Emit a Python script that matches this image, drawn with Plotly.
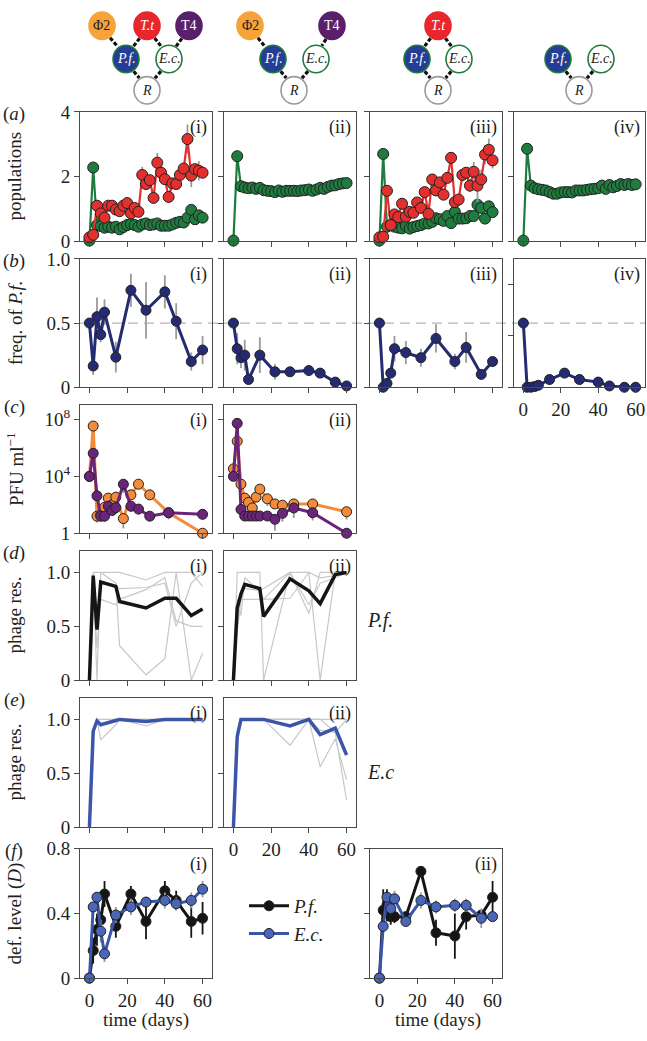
import plotly.graph_objects as go

W, H = 647, 1041
SERIF = 'Liberation Serif, Times New Roman, Times, serif'
TXT = '#231f20'
AX = '#4a4a4a'
GERR = '#9a9a9a'
GREP = '#c8c8c8'

# ---------------- data ----------------
days_a = list(range(0, 61, 2))
a1_tt = [0.12, 0.2, 1.1, 0.86, 0.73, 1.1, 1.1, 0.98, 0.93, 1.1, 1.18, 0.86, 1.03, 0.91, 2.05, 1.77,
         1.89, 1.34, 2.43, 2.12, 1.92, 1.37, 1.79, 1.77, 2.05, 2.25, 3.16, 2.03, 2.23, 2.18, 2.12]
a1_tt_err = [0.03, 0.05, 0.08, 0.1, 0.15, 0.08, 0.06, 0.08, 0.05, 0.1, 0.08, 0.1, 0.1, 0.1, 0.25, 0.15,
             0.15, 0.1, 0.3, 0.2, 0.15, 0.15, 0.1, 0.08, 0.1, 0.1, 0.45, 0.35, 0.1, 0.3, 0.1]
a1_ec = [0.02, 2.28, 0.5, 0.47, 0.42, 0.45, 0.42, 0.45, 0.37, 0.44, 0.5, 0.53, 0.5, 0.45, 0.52, 0.55,
         0.5, 0.52, 0.55, 0.48, 0.48, 0.48, 0.52, 0.57, 0.6, 0.58, 0.73, 0.97, 0.68, 0.8, 0.73]
a2_ec = [0.02, 2.63, 1.7, 1.66, 1.64, 1.66, 1.62, 1.65, 1.58, 1.56, 1.55, 1.52, 1.57, 1.53, 1.56, 1.56,
         1.56, 1.55, 1.57, 1.58, 1.6, 1.56, 1.6, 1.65, 1.62, 1.68, 1.72, 1.73, 1.77, 1.79, 1.8]
a3_tt = [0.12, 0.14, 1.56, 0.5, 0.83, 0.75, 1.16, 0.76, 0.91, 0.88, 1.2, 1.03, 1.52, 0.85, 1.91, 1.57,
         1.82, 1.44, 1.96, 2.58, 1.21, 1.29, 2.05, 2.12, 1.72, 2.15, 1.72, 1.91, 2.68, 2.83, 2.5]
a3_tt_err = [0.03, 0.03, 0.1, 0.08, 0.05, 0.05, 0.05, 0.05, 0.05, 0.05, 0.05, 0.06, 0.08, 0.06, 0.1, 0.1,
             0.1, 0.1, 0.1, 0.15, 0.1, 0.1, 0.2, 0.15, 0.2, 0.3, 0.5, 0.3, 0.3, 0.35, 0.25]
a3_ec = [0.02, 2.7, 0.45, 0.5, 0.45, 0.42, 0.4, 0.47, 0.39, 0.44, 0.47, 0.5, 0.55, 0.55, 0.6, 0.71,
         0.68, 0.63, 0.78, 0.56, 0.91, 0.7, 0.7, 0.71, 0.78, 0.78, 1.13, 1.03, 0.7, 1.08, 0.9]
a4_ec = [0.02, 2.86, 1.72, 1.64, 1.61, 1.59, 1.57, 1.52, 1.47, 1.47, 1.51, 1.52, 1.52, 1.51, 1.57, 1.57,
         1.57, 1.59, 1.61, 1.62, 1.64, 1.72, 1.62, 1.74, 1.67, 1.71, 1.77, 1.74, 1.77, 1.74, 1.76]

days_b = [0, 2, 4, 6, 8, 14, 22, 30, 40, 46, 54, 60]
b1 = [0.5, 0.165, 0.55, 0.41, 0.585, 0.234, 0.755, 0.6, 0.743, 0.514, 0.2, 0.29]
b1_err = [0, 0.07, 0.15, 0.06, 0.1, 0.12, 0.13, 0.22, 0.13, 0.14, 0.07, 0.11]
b2 = [0.5, 0.3, 0.23, 0.25, 0.06, 0.25, 0.12, 0.12, 0.13, 0.11, 0.04, 0.01]
b2_err = [0, 0.12, 0.08, 0.12, 0.02, 0.14, 0.06, 0.02, 0.02, 0.02, 0.02, 0.01]
b3 = [0.5, 0.0, 0.03, 0.11, 0.3, 0.27, 0.23, 0.38, 0.2, 0.31, 0.1, 0.2]
b3_err = [0, 0, 0.02, 0.03, 0.1, 0.09, 0.07, 0.11, 0.06, 0.12, 0.03, 0.03]
b4 = [0.5, 0.0, 0.0, 0.005, 0.015, 0.06, 0.11, 0.06, 0.04, 0.01, 0.0, 0.0]

days_c = [0, 2, 4, 6, 8, 10, 12, 14, 18, 22, 26, 32, 42, 60]
# log10(PFU/ml) and decades of the lower error bar
c1_phi2 = [4.0, 7.54, 1.2, 1.3, 1.83, 2.47, 2.0, 2.54, 1.03, 2.7, 3.45, 2.7, 1.44, 0.0]
c1_phi2_lo = [0, 0, 0.45, 0, 0, 0, 0, 0, 0.7, 0, 0, 0, 0.4, 0]
c1_t4 = [4.0, 5.62, 2.63, 1.2, 1.2, 1.9, 1.6, 1.8, 3.45, 1.9, 1.7, 1.2, 1.44, 1.33]
c1_t4_lo = [0, 0, 0, 0.4, 0.4, 0, 0, 0, 0.6, 0.4, 0.4, 0, 0.45, 0.35]
c2_phi2 = [4.53, 6.47, 3.45, 2.47, 2.17, 1.78, 2.54, 3.1, 2.42, 2.06, 1.97, 2.06, 2.06, 1.51]
c2_phi2_lo = [0, 0, 0, 0, 0, 0, 0, 0, 0.5, 0, 0, 0, 0, 0.55]
c2_t4 = [4.0, 7.73, 1.67, 1.21, 1.21, 1.21, 1.21, 1.21, 1.21, 0.98, 1.4, 1.78, 1.44, 0.0]
c2_t4_lo = [0, 0, 0, 0, 0, 0, 0, 0, 0, 0.8, 0.6, 0.7, 0.55, 0]

days_de = [0, 2, 4, 6, 14, 16, 30, 40, 46, 54, 60]
d1_mean = [0, 0.97, 0.47, 0.91, 0.87, 0.73, 0.67, 0.76, 0.76, 0.6, 0.66]
d1_reps = [
    [0, 1.0, 1.0, 1.0, 1.0, 1.0, 0.93, 1.0, 1.0, 1.0, 0.87],
    [0, 1.0, 0.0, 1.0, 0.9, 0.32, 0.05, 0.2, 1.0, 0.0, 0.25],
    [0, 0.95, 0.3, 0.75, 0.7, 0.75, 0.84, 0.95, 0.55, 0.5, 0.5],
    [0, 0.93, 0.6, 0.9, 0.88, 0.85, 0.86, 0.9, 0.5, 0.9, 1.0],
]
d2_mean = [0, 0.67, 0.8, 0.89, 0.85, 0.59, 0.94, 0.83, 0.71, 0.98, 1.0]
d2_reps = [
    [0, 1.0, 1.0, 1.0, 1.0, 0.0, 1.0, 1.0, 0.0, 1.0, 1.0],
    [0, 0.45, 0.75, 0.75, 0.75, 0.75, 1.0, 0.62, 1.0, 1.0, 1.0],
    [0, 0.5, 0.83, 0.85, 0.83, 0.85, 1.0, 0.7, 0.9, 0.95, 1.0],
    [0, 0.75, 0.6, 0.95, 0.83, 0.75, 0.76, 1.0, 0.95, 0.97, 1.0],
]
e1_mean = [0, 0.89, 0.985, 0.95, 0.99, 1.0, 0.98, 1.0, 1.0, 1.0, 1.0]
e1_reps = [
    [0, 0.92, 1.0, 1.0, 1.0, 1.0, 1.0, 1.0, 1.0, 1.0, 1.0],
    [0, 0.85, 1.0, 0.81, 0.95, 1.0, 0.94, 1.0, 1.0, 1.0, 1.0],
    [0, 0.9, 1.0, 0.95, 1.0, 1.0, 1.0, 1.0, 1.0, 1.0, 1.0],
]
e2_mean = [0, 0.84, 1.0, 1.0, 1.0, 1.0, 0.94, 1.0, 0.86, 0.92, 0.67]
e2_reps = [
    [0, 0.9, 1.0, 1.0, 1.0, 1.0, 1.0, 1.0, 1.0, 1.0, 1.0],
    [0, 0.8, 1.0, 1.0, 1.0, 1.0, 1.0, 1.0, 1.0, 0.88, 1.0],
    [0, 0.85, 1.0, 1.0, 1.0, 1.0, 0.76, 1.0, 0.56, 0.82, 0.44],
    [0, 0.8, 1.0, 1.0, 1.0, 1.0, 1.0, 1.0, 0.9, 0.88, 0.25],
]

days_f = [0, 2, 4, 6, 8, 14, 22, 30, 40, 46, 54, 60]
f1_pf = [0, 0.17, 0.3, 0.36, 0.52, 0.32, 0.52, 0.35, 0.54, 0.48, 0.35, 0.37]
f1_pf_err = [0, 0.08, 0.1, 0.05, 0.08, 0.07, 0.05, 0.11, 0.06, 0.06, 0.1, 0.1]
f1_ec = [0, 0.44, 0.5, 0.29, 0.15, 0.39, 0.44, 0.47, 0.48, 0.46, 0.48, 0.55]
f1_ec_err = [0, 0.03, 0.03, 0.07, 0.05, 0.05, 0.05, 0.02, 0.05, 0.04, 0.05, 0.05]
f2_pf = [0, 0.42, 0.45, 0.38, 0.38, 0.38, 0.66, 0.28, 0.26, 0.38, 0.39, 0.5]
f2_pf_err = [0, 0.13, 0.1, 0.05, 0.04, 0.03, 0.02, 0.08, 0.14, 0.08, 0.03, 0.1]
f2_ec = [0, 0.32, 0.5, 0.43, 0.49, 0.35, 0.48, 0.44, 0.45, 0.45, 0.37, 0.38]
f2_ec_err = [0, 0.02, 0.03, 0.03, 0.05, 0.03, 0.05, 0.04, 0.04, 0.04, 0.06, 0.02]

x_ticks = [0, 20, 40, 60]

# ---------------- colours ----------------
RED = '#e3302f'
GREEN = '#1e7d3e'
NAVY = '#252b73'
ORANGE = '#f48b3a'
PURPLE = '#6a2479'
BLUE = '#3b56a8'
BLACK = '#151515'

# ---------------- layout geometry (pixels) ----------------
cols = [(80, 212), (224, 356), (370, 502), (514, 645)]
rows = {'a': (104, 236), 'b': (254, 385), 'c': (403, 534), 'd': (552, 684), 'e': (702, 834), 'f': (856, 988)}

fig = go.Figure()
layout_axes = {}
counter = [0]


def panel(row, col, yrange, ytickvals, yticktext, ylabels, xlabels, ytype='linear', tag=''):
    counter[0] += 1
    n = counter[0]
    s = '' if n == 1 else str(n)
    x0, x1 = cols[col]
    y0, y1 = rows[row]
    common = dict(ticks='outside', ticklen=5, tickwidth=1, tickcolor=AX, showline=True, linecolor=AX,
                  linewidth=1, mirror=True, showgrid=False, zeroline=False,
                  tickfont=dict(family=SERIF, size=19, color=TXT))
    layout_axes['xaxis' + s] = dict(domain=[x0 / W, x1 / W], anchor='y' + s, range=[-5, 65],
                                    tickvals=x_ticks, showticklabels=xlabels, **common)
    layout_axes['yaxis' + s] = dict(domain=[1 - y1 / H, 1 - y0 / H], anchor='x' + s, range=yrange, type=ytype,
                                    tickvals=ytickvals, ticktext=yticktext, showticklabels=ylabels, **common)
    if tag:
        fig.add_annotation(xref='x' + s + ' domain', yref='y' + s + ' domain', x=1 - 3 / 132, y=1 - 3 / 132,
                           xanchor='right', yanchor='top', text=tag, showarrow=False,
                           font=dict(family=SERIF, size=18, color=TXT))
    return 'x' + s, 'y' + s


def series(xa, ya, x, y, color, fill=None, err=None, errminus=None, errcolor=GERR, size=10, lw=2.2,
           name=None, legend=False):
    tr = go.Scatter(x=x, y=y, xaxis=xa, yaxis=ya, mode='lines+markers', cliponaxis=False,
                    line=dict(color=color, width=lw),
                    marker=dict(size=size, color=fill or color, line=dict(color='#222222', width=1)),
                    name=name, showlegend=legend)
    if err is not None:
        tr.error_y = dict(type='data', array=err, visible=True, color=errcolor, thickness=1.8, width=0)
    if errminus is not None:
        tr.error_y = dict(type='data', symmetric=False, array=[0] * len(y), arrayminus=errminus,
                          visible=True, color=errcolor, thickness=1.8, width=0)
    fig.add_trace(tr)


def lines(xa, ya, x, y, color, lw):
    fig.add_trace(go.Scatter(x=x, y=y, xaxis=xa, yaxis=ya, mode='lines', cliponaxis=False,
                             line=dict(color=color, width=lw), showlegend=False))


# ---- row a ----
ya_t = [0, 2, 4]
ya_l = ['0', '2', '4']
xa, ya = panel('a', 0, [0, 4], ya_t, ya_l, True, False, tag='(i)')
series(xa, ya, days_a, a1_ec, GREEN, err=[0.03] * 31, size=11)
series(xa, ya, days_a, a1_tt, RED, err=a1_tt_err, size=11)
xa, ya = panel('a', 1, [0, 4], ya_t, ya_l, False, False, tag='(ii)')
series(xa, ya, days_a, a2_ec, GREEN, err=[0.03] * 31, size=11)
xa, ya = panel('a', 2, [0, 4], ya_t, ya_l, False, False, tag='(iii)')
series(xa, ya, days_a, a3_ec, GREEN, err=[0.04] * 31, size=11)
series(xa, ya, days_a, a3_tt, RED, err=a3_tt_err, size=11)
xa, ya = panel('a', 3, [0, 4], ya_t, ya_l, False, False, tag='(iv)')
series(xa, ya, days_a, a4_ec, GREEN, err=[0.03] * 31, size=11)

# ---- row b ----
yb_t = [0, 0.5, 1.0]
yb_l = ['0', '0.5', '1.0']
for i, (vals, err, tg) in enumerate([(b1, b1_err, '(i)'), (b2, b2_err, '(ii)'), (b3, b3_err, '(iii)'),
                                     (b4, None, '(iv)')]):
    if i < 3:
        xa, ya = panel('b', i, [0, 1], yb_t, yb_l, i == 0, False, tag=tg)
    else:
        xa, ya = panel('b', i, [0, 1], [0, 0.4, 0.8], ['0', '0.4', '0.8'], False, True, tag=tg)
    series(xa, ya, days_b, vals, NAVY, err=err, size=10, lw=3)

# ---- row c ----
yc_t = [1, 1e4, 1e8]
yc_l = ['1', '10<sup>4</sup>', '10<sup>8</sup>']
for i, (o, olo, p, plo, tg) in enumerate([(c1_phi2, c1_phi2_lo, c1_t4, c1_t4_lo, '(i)'),
                                          (c2_phi2, c2_phi2_lo, c2_t4, c2_t4_lo, '(ii)')]):
    xa, ya = panel('c', i, [0, 9.03], yc_t, yc_l, i == 0, False, ytype='log', tag=tg)
    ov = [10 ** v for v in o]
    pv = [10 ** v for v in p]
    om = [10 ** v - 10 ** (v - e) for v, e in zip(o, olo)]
    pm = [10 ** v - 10 ** (v - e) for v, e in zip(p, plo)]
    series(xa, ya, days_c, ov, ORANGE, errminus=om, size=10, lw=3)
    series(xa, ya, days_c, pv, PURPLE, errminus=pm, size=10, lw=3)

# ---- rows d, e ----
yd_t = [0, 0.5, 1.0]
yd_l = ['0', '0.5', '1.0']
for i, (mean, reps, tg) in enumerate([(d1_mean, d1_reps, '(i)'), (d2_mean, d2_reps, '(ii)')]):
    xa, ya = panel('d', i, [0, 1.2], yd_t, yd_l, i == 0, False, tag=tg)
    for r in reps:
        lines(xa, ya, days_de, r, GREP, 1.2)
    lines(xa, ya, days_de, mean, BLACK, 3.5)
for i, (mean, reps, tg) in enumerate([(e1_mean, e1_reps, '(i)'), (e2_mean, e2_reps, '(ii)')]):
    xa, ya = panel('e', i, [0, 1.2], yd_t, yd_l, i == 0, i == 1, tag=tg)
    for r in reps:
        lines(xa, ya, days_de, r, GREP, 1.2)
    lines(xa, ya, days_de, mean, BLUE, 3.5)

# ---- row f ----
yf_t = [0, 0.4, 0.8]
yf_l = ['0', '0.4', '0.8']
xa, ya = panel('f', 0, [0, 0.8], yf_t, yf_l, True, True, tag='(i)')
series(xa, ya, days_f, f1_pf, BLACK, err=f1_pf_err, errcolor=BLACK, size=10, lw=3,
       name='<i>P.f.</i>', legend=True)
series(xa, ya, days_f, f1_ec, BLUE, fill='#4a66b8', err=f1_ec_err, size=10, lw=3,
       name='<i>E.c.</i>', legend=True)
xa, ya = panel('f', 2, [0, 0.8], yf_t, yf_l, False, True, tag='(ii)')
series(xa, ya, days_f, f2_pf, BLACK, err=f2_pf_err, errcolor=BLACK, size=10, lw=3)
series(xa, ya, days_f, f2_ec, BLUE, fill='#4a66b8', err=f2_ec_err, size=10, lw=3)


# ---------------- text ----------------
def ann(x, y, text, size=18, angle=0, xanchor='center', yanchor='middle', color=TXT):
    fig.add_annotation(xref='paper', yref='paper', x=x / W, y=1 - y / H, text=text, showarrow=False,
                       textangle=angle, xanchor=xanchor, yanchor=yanchor,
                       font=dict(family=SERIF, size=size, color=color))


for lab, r in zip('abcdef', 'abcdef'):
    ann(14, rows[r][0] + 2, '(<i>%s</i>)' % lab, size=19)

ytitles = {'a': 'populations', 'b': 'freq. of <i>P.f.</i>', 'c': 'PFU ml<sup>−1</sup>',
           'd': 'phage res.', 'e': 'phage res.', 'f': 'def. level (<i>D</i>)'}
for r, t in ytitles.items():
    ann(15, (rows[r][0] + rows[r][1]) / 2, t, size=19, angle=-90)

ann(380, 623, '<i>P.f.</i>', size=20)
ann(381, 778, '<i>E.c</i>', size=20)
ann((cols[0][0] + cols[0][1]) / 2, 1031, 'time (days)', size=19)
ann((cols[2][0] + cols[2][1]) / 2 + 2, 1031, 'time (days)', size=19)

# dashed 0.5 reference line across row b
yb_mid = rows['b'][1] - 0.5 * (rows['b'][1] - rows['b'][0])
fig.add_shape(type='line', xref='paper', yref='paper', x0=cols[0][0] / W, x1=cols[3][1] / W,
              y0=1 - yb_mid / H, y1=1 - yb_mid / H, layer='below',
              line=dict(color='#b5b5b5', width=1.2, dash='10px,6px'))

# ---------------- food-web diagrams ----------------
nodes = {
    'phi': dict(fill='#f7a33a', edge='#f7a33a', text='Φ2', tc=TXT, it=False),
    'tt': dict(fill='#e8262b', edge='#e8262b', text='T.t', tc='white', it=True),
    't4': dict(fill='#5a1f6a', edge='#5a1f6a', text='T4', tc='white', it=False),
    'pf': dict(fill='#263d95', edge='#1e7d3e', text='P.f.', tc='white', it=True),
    'ec': dict(fill='white', edge='#1e7d3e', text='E.c.', tc=TXT, it=True),
    'r': dict(fill='white', edge='#9a9a9a', text='R', tc=TXT, it=True),
}
diagrams = [
    {'phi': (102, 16), 'tt': (147, 16), 't4': (189, 16), 'pf': (126, 50), 'ec': (169, 50), 'r': (147, 82)},
    {'phi': (250, 16), 't4': (332, 16), 'pf': (273, 50), 'ec': (316, 50), 'r': (294, 82)},
    {'tt': (438, 16), 'pf': (417, 50), 'ec': (459, 50), 'r': (438, 82)},
    {'pf': (558, 50), 'ec': (601, 50), 'r': (579, 82)},
]
links = [('phi', 'pf'), ('tt', 'pf'), ('tt', 'ec'), ('t4', 'ec'), ('pf', 'r'), ('ec', 'r')]
RX, RY = 13, 14
for d in diagrams:
    for a, b in links:
        if a in d and b in d:
            (xa_, ya_), (xb_, yb_) = d[a], d[b]
            dx, dy = xb_ - xa_, yb_ - ya_
            L = (dx ** 2 + dy ** 2) ** 0.5
            ux, uy = dx / L, dy / L
            sx, sy = xa_ + ux * (RX + 1), ya_ + uy * (RY + 1)
            ex, ey = xb_ - ux * (RX + 1), yb_ - uy * (RY + 1)
            fig.add_shape(type='line', xref='paper', yref='paper', x0=sx / W, y0=1 - sy / H,
                          x1=ex / W, y1=1 - ey / H, line=dict(color='#111111', width=3.2, dash='4px,2px'))
    for k, (cx, cy) in d.items():
        nd = nodes[k]
        fig.add_shape(type='circle', xref='paper', yref='paper', x0=(cx - RX) / W, x1=(cx + RX) / W,
                      y0=1 - (cy + RY) / H, y1=1 - (cy - RY) / H, fillcolor=nd['fill'],
                      line=dict(color=nd['edge'], width=1.6))
        t = '<i>%s</i>' % nd['text'] if nd['it'] else nd['text']
        ann(cx, cy, t, size=14, color=nd['tc'])

fig.update_layout(
    width=W, height=H, margin=dict(l=0, r=0, t=0, b=0),
    paper_bgcolor='white', plot_bgcolor='rgba(0,0,0,0)',
    showlegend=True,
    legend=dict(x=244 / W, y=1 - 895 / H, xanchor='left', yanchor='top', bgcolor='rgba(0,0,0,0)',
                font=dict(family=SERIF, size=19, color=TXT), tracegroupgap=0, itemwidth=40),
    font=dict(family=SERIF, color=TXT),
    **layout_axes,
)

fig.write_html('out.html', config={'displayModeBar': False},
               post_script="document.body.style.margin='0px';document.body.style.overflow='hidden';")
